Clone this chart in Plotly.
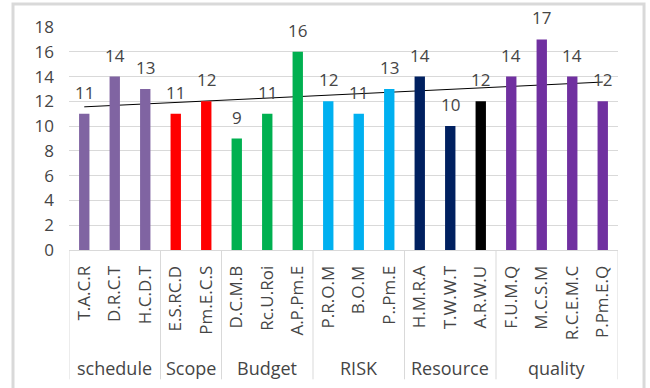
import numpy as np
import plotly.graph_objects as go

# Survey factor scores grouped by project-management area
factors = ["T.A.C.R", "D.R.C.T", "H.C.D.T",
           "E.S.RC.D", "Pm.E.C.S",
           "D.C.M.B", "Rc.U.Roi", "A.P.Pm.E",
           "P.R.O.M", "B.O.M", "P..Pm.E",
           "H.M.R.A", "T.W.W.T", "A.R.W.U",
           "F.U.M.Q", "M.C.S.M", "R.C.E.M.C", "P.Pm.E.Q"]
scores = [11, 14, 13,
          11, 12,
          9, 11, 16,
          12, 11, 13,
          14, 10, 12,
          14, 17, 14, 12]
groups = ["schedule", "Scope", "Budget", "RISK", "Resource", "quality"]
group_sizes = [3, 2, 3, 3, 3, 4]
y_ticks = [0, 2, 4, 6, 8, 10, 12, 14, 16, 18]

bar_colors = (["#8064A2"] * 3 + ["#FF0000"] * 2 + ["#00B050"] * 3 +
              ["#00B0F0"] * 3 + ["#002060", "#002060", "#000000"] +
              ["#7030A0"] * 4)

FONT = "Open Sans"
TXT = "#454545"
GRID = "#d9d9d9"

fig = go.Figure()
fig.add_trace(go.Bar(
    x=factors, y=scores, marker=dict(color=bar_colors, line=dict(width=0)),
    width=0.34, showlegend=False, hoverinfo="x+y",
))

# value labels above each bar
annotations = []
for f, v in zip(factors, scores):
    annotations.append(dict(
        x=f, y=v, xref="x", yref="y", text=str(v), showarrow=False,
        yanchor="bottom", yshift=8, font=dict(family=FONT, size=17, color=TXT),
    ))

# group labels and dividers under the category labels
shapes = []
start = 0
bounds = [-0.5]
for g, n in zip(groups, group_sizes):
    center = start + (n - 1) / 2
    annotations.append(dict(
        x=center, y=-0.529, xref="x", yref="paper", text=g, showarrow=False,
        yanchor="middle", font=dict(family=FONT, size=18, color=TXT),
    ))
    start += n
    bounds.append(start - 0.5)
for b in bounds:
    shapes.append(dict(type="line", xref="x", yref="paper", x0=b, x1=b,
                       y0=0, y1=-0.58, line=dict(color=GRID, width=1)))

# linear trendline through the scores, drawn beneath the bars
idx = np.arange(len(scores))
slope, intercept = np.polyfit(idx, scores, 1)
shapes.append(dict(type="line", xref="x", yref="y", layer="between",
                   x0=0, x1=len(scores) - 1,
                   y0=intercept, y1=intercept + slope * (len(scores) - 1),
                   line=dict(color="#000000", width=1)))

# outer chart frame
shapes.append(dict(type="rect", xref="paper", yref="paper",
                   x0=-0.102, x1=1.0474, y0=-0.63, y1=1.103,
                   line=dict(color=GRID, width=3), fillcolor="rgba(0,0,0,0)"))

fig.update_layout(
    width=650, height=388,
    margin=dict(l=69, r=32, t=27, b=138),
    paper_bgcolor="white", plot_bgcolor="white",
    bargap=0.66,
    annotations=annotations, shapes=shapes,
    xaxis=dict(
        type="category", tickangle=-90, showgrid=False,
        showline=True, linecolor=GRID, linewidth=1,
        ticks="", ticklabelstandoff=8,
        tickfont=dict(family=FONT, size=17, color=TXT),
        range=[-0.5, len(factors) - 0.5],
    ),
    yaxis=dict(
        range=[0, 18], tickvals=y_ticks, showgrid=True, gridcolor=GRID,
        gridwidth=1, zeroline=False, showline=False, ticks="",
        ticklabelstandoff=14,
        tickfont=dict(family=FONT, size=17, color=TXT),
    ),
)

fig.write_html("out.html")
